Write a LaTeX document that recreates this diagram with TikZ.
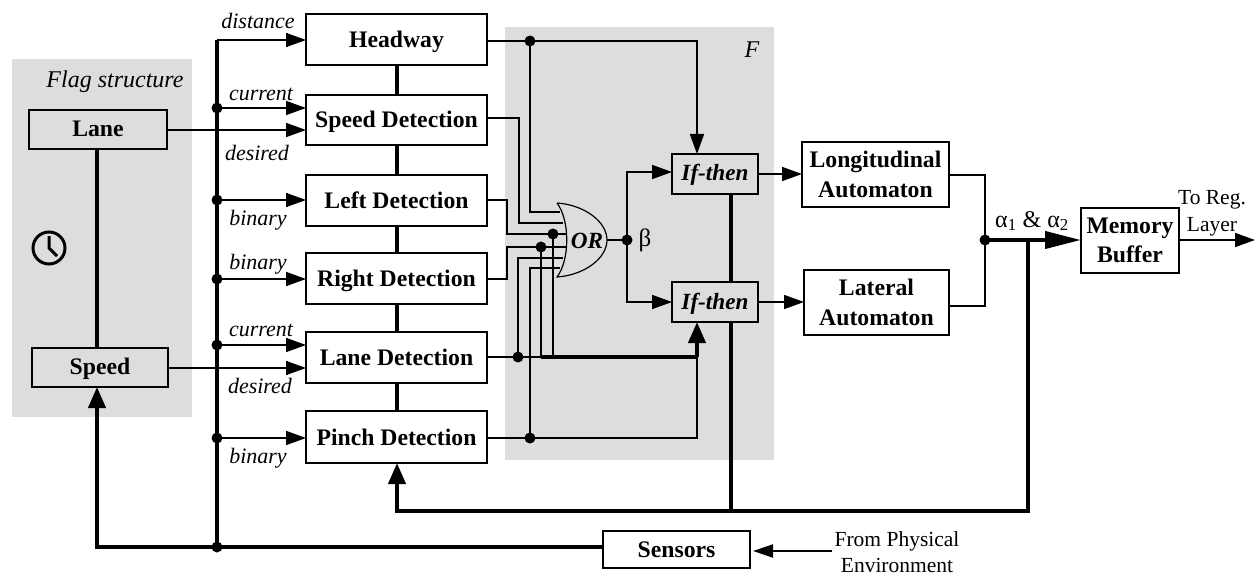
\documentclass[tikz,border=0pt]{standalone}
\usepackage{fontspec}
\setmainfont{Liberation Serif}
\usetikzlibrary{arrows.meta}
\definecolor{panel}{HTML}{DDDDDD}
\tikzset{
  thin wire/.style={line width=1.7pt,line join=miter},
  thick wire/.style={line width=4pt,line join=miter},
  tip/.style={-{Triangle[length=20pt,width=14pt]}},
  bigtip/.style={-{Triangle[length=21pt,width=17pt]}},
  longtip/.style={-{Triangle[length=36pt,width=17pt]}},
  panelbox/.style={fill=panel,draw=none,inner sep=0pt,outer sep=0pt},
  bx/.style={draw,fill=white,line width=1.8pt,inner sep=0pt,outer sep=0pt,align=center,
    font=\fontsize{23.7}{29.5}\selectfont\bfseries},
  oneline/.style={text height=16pt,text depth=0pt},
  gbx/.style={bx,fill=panel,text height=13.5pt,text depth=0pt},
  itbx/.style={gbx,font=\fontsize{23.2}{28}\selectfont\bfseries\itshape,text height=14pt},
  dot/.style={circle,fill=black,inner sep=0pt,minimum size=11pt,outer sep=0pt},
  sig/.style={font=\fontsize{22}{26}\selectfont\itshape,inner sep=0pt},
  plain/.style={font=\fontsize{21.5}{26.5}\selectfont,inner sep=0pt,align=center},
}
\begin{document}
\begin{tikzpicture}[x=1pt,y=-1pt]
\useasboundingbox (0,0) rectangle (1256,575);
% panels
\node[panelbox,minimum width=180pt,minimum height=358pt] (flagpanel) at (102,238) {};
\node[panelbox,minimum width=269pt,minimum height=433pt] (fpanel) at (639.5,243.5) {};
% boxes
\node[gbx,minimum width=138pt,minimum height=39pt] (lane) at (98,129.5) {Lane};
\node[gbx,minimum width=136pt,minimum height=39pt] (speed) at (100,367.5) {Speed};
\node[bx,oneline,minimum width=181pt,minimum height=51pt] (hw) at (396.5,39.5) {Headway};
\node[bx,oneline,minimum width=181pt,minimum height=50pt] (sd) at (396.5,120) {Speed Detection};
\node[bx,oneline,minimum width=181pt,minimum height=51pt] (ld) at (396.5,200.5) {Left Detection};
\node[bx,oneline,minimum width=181pt,minimum height=51pt] (rd) at (396.5,278.5) {Right Detection};
\node[bx,oneline,minimum width=181pt,minimum height=51pt] (nd) at (396.5,357.5) {Lane Detection};
\node[bx,oneline,minimum width=181pt,minimum height=52pt] (pd) at (396.5,437) {Pinch Detection};
\node[itbx,minimum width=86pt,minimum height=40pt] (if1) at (715,174) {If-then};
\node[itbx,minimum width=86pt,minimum height=40pt] (if2) at (715,302) {If-then};
\node[bx,minimum width=147pt,minimum height=65pt] (la) at (875.5,174.5) {Longitudinal\\Automaton};
\node[bx,minimum width=145pt,minimum height=65pt] (ta) at (876.5,302.5) {Lateral\\Automaton};
\node[bx,minimum width=98pt,minimum height=65pt] (mem) at (1130,240.5) {Memory\\Buffer};
\node[bx,text height=15pt,text depth=0pt,minimum width=147pt,minimum height=37pt] (sens) at (676.5,549.5) {Sensors};
% junctions and free ends
\node[dot] (b1) at (217,108) {};
\node[dot] (b2) at (217,200) {};
\node[dot] (b3) at (217,279) {};
\node[dot] (b4) at (217,345) {};
\node[dot] (b5) at (217,438) {};
\node[dot] (b6) at (217,547) {};
\coordinate (btop) at (217,40);
\node[dot] (jh) at (530,41) {};
\node[dot] (jl) at (553,234) {};
\node[dot] (jr) at (541,247) {};
\node[dot] (jn) at (518,357) {};
\node[dot] (jp) at (530,438) {};
\node[dot] (jb) at (627,240) {};
\node[dot] (ja) at (985,240) {};
\coordinate (jt) at (697,357);
\coordinate (jf) at (1028,240);
\coordinate (kb) at (1028,511);
\coordinate (kc) at (731,511);
\coordinate (kp) at (397,511);
\coordinate (out) at (1255,240);
\coordinate (env) at (832,551);
% OR gate
\draw[line width=1.2pt,fill=panel] (557,203) .. controls (570,220) and (570,260) .. (557,277)
  .. controls (585,275) and (607,258) .. (607,240) .. controls (607,222) and (585,205) .. (557,203);
\coordinate (orout) at (607,240);
\node[font=\fontsize{23.2}{28}\selectfont\bfseries\itshape,inner sep=0pt] (orlab) at (587,241) {OR};
% thick links between blocks
\draw[thick wire] (hw.south) -- (sd.north);
\draw[thick wire] (sd.south) -- (ld.north);
\draw[thick wire] (ld.south) -- (rd.north);
\draw[thick wire] (rd.south) -- (nd.north);
\draw[thick wire] (nd.south) -- (pd.north);
\draw[thick wire] (lane.south -| 97,0) -- (speed.north -| 97,0);
\draw[thick wire] (if1.south -| kc) -- (if2.north -| kc);
% sensor bus
\draw[thick wire] (btop) -- (b6.center);
\draw[thick wire,bigtip] (sens.west |- b6) -- (b6.center) -- (97,547) -- (speed.south -| 97,0);
% bus feeds
\draw[thin wire,tip] (btop) -- (hw.west |- btop);
\draw[thin wire,tip] (b1.center) -- (sd.west |- b1);
\draw[thin wire,tip] (lane.east |- 0,130) -- (sd.west |- 0,130);
\draw[thin wire,tip] (b2.center) -- (ld.west |- b2);
\draw[thin wire,tip] (b3.center) -- (rd.west |- b3);
\draw[thin wire,tip] (b4.center) -- (nd.west |- b4);
\draw[thin wire,tip] (speed.east |- 0,368) -- (nd.west |- 0,368);
\draw[thin wire,tip] (b5.center) -- (pd.west |- b5);
% OR inputs
\draw[thin wire] (hw.east |- jh) -- (jh.center) -- (530,212) -- (560,212);
\draw[thin wire,tip] (jh.center) -- (697,41) -- (if1.north -| 697,0);
\draw[thin wire] (sd.east |- 0,118) -- (519,118) -- (519,223) -- (563,223);
\draw[thin wire] (ld.east |- 0,200) -- (507,200) -- (507,234) -- (566,234);
\draw[thin wire] (rd.east |- 0,279) -- (507,279) -- (507,247) -- (566,247);
\draw[thin wire] (nd.east |- jn) -- (jn.center) -- (518,258) -- (563,258);
\draw[thin wire] (jp.center) -- (530,268) -- (560,268);
\draw[thin wire] (jr.center) -- (541,357);
\draw[thin wire] (jl.center) -- (553,357);
\draw[thin wire] (pd.east |- jp) -- (jp.center) -- (697,438) -- (jt);
\draw[thin wire] (jn.center) -- (541,357);
\draw[thick wire] (541,357) -- (jt);
\draw[thick wire,bigtip] (jt) -- (if2.south -| jt);
% OR output
\draw[thin wire] (orout) -- (jb.center);
\draw[thin wire,tip] (jb.center) -- (627,172) -- (if1.west |- 0,172);
\draw[thin wire,tip] (jb.center) -- (627,302) -- (if2.west);
% automata
\draw[thin wire,tip] (if1.east) -- (la.west |- if1.east);
\draw[thin wire,tip] (if2.east) -- (ta.west |- if2.east);
\draw[thin wire] (la.east |- 0,175) -- (985,175) -- (985,306) -- (ta.east |- 0,306);
\draw[thick wire,longtip] (ja.center) -- (mem.west |- ja);
\draw[thin wire,tip] (mem.east |- ja) -- (out);
% feedback
\draw[thick wire] (jf) -- (kb) -- (kc);
\draw[thick wire] (if2.south -| kc) -- (kc);
\draw[thick wire,bigtip] (kc) -- (kp) -- (pd.south -| kp);
% sensors input
\draw[line width=2pt,-{Triangle[length=20pt,width=13pt]}] (env) -- (753,551);
% clock
\draw[line width=3pt] (49,248) circle (16pt);
\draw[line width=3pt,line join=miter] (49,236) -- (49,248) -- (57,256);
% labels
\node[sig] (t1) at (258,21) {distance};
\node[sig] (t2) at (261,94) {current};
\node[sig] (t3) at (257,153) {desired};
\node[sig] (t4) at (258,220) {binary};
\node[sig] (t5) at (258,264) {binary};
\node[sig] (t6) at (261,330) {current};
\node[sig] (t7) at (260,386) {desired};
\node[sig] (t8) at (258,458) {binary};
\node[sig,font=\fontsize{24}{28}\selectfont\itshape] (t9) at (115,82) {Flag structure};
\node[sig,font=\fontsize{24}{28}\selectfont\itshape] (t10) at (752,50) {F};
\node[plain,font=\fontsize{25}{28}\selectfont] (t11) at (645,240) {β};
\node[plain,font=\fontsize{24}{28}\selectfont] (t12) at (1032,221) {α\textsubscript{1} \& α\textsubscript{2}};
\node[plain] (t13) at (1212,213.5) {To Reg.\\Layer};
\node[plain,font=\fontsize{21.5}{25.5}\selectfont] (t14) at (897,552) {From Physical\\Environment};
\end{tikzpicture}
\end{document}
